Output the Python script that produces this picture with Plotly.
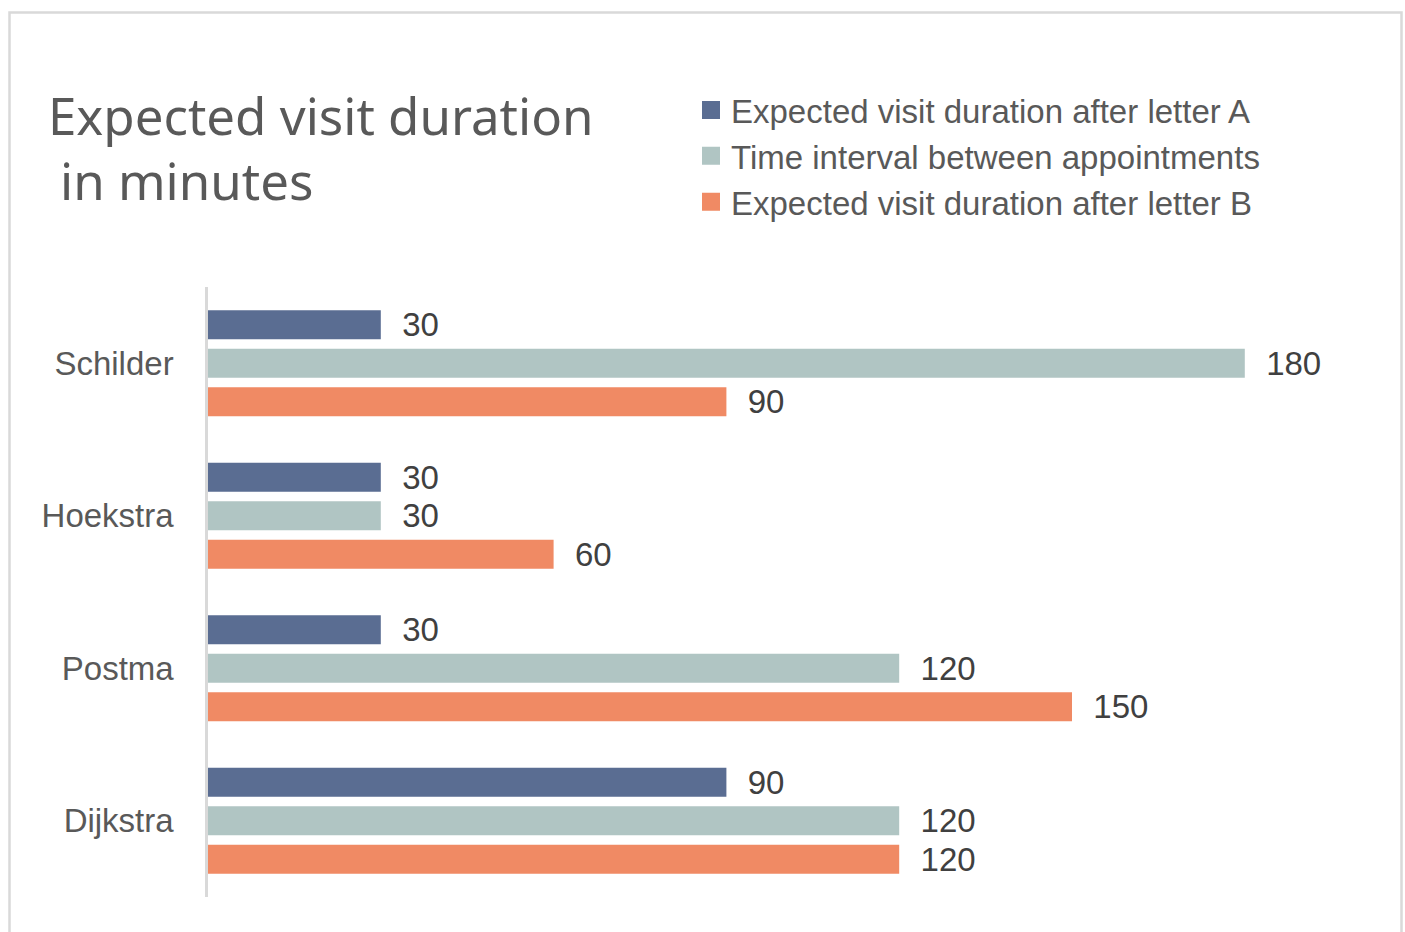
import plotly.graph_objects as go

categories = ["Schilder", "Hoekstra", "Postma", "Dijkstra"]
series_names = [
    "Expected visit duration after letter A",
    "Time interval between appointments",
    "Expected visit duration after letter B",
]
letter_a = [30, 30, 30, 90]
interval = [180, 30, 120, 120]
letter_b = [90, 60, 150, 120]
colors = ["#5A6D92", "#B0C5C3", "#F08A64"]

W, H = 1405, 932
ML, MR, MT, MB = 208, 45, 287, 35
PW = W - ML - MR
PH = H - MT - MB


def px_x(p):
    return (p - ML) / PW


def px_y(p):
    return (H - MB - p) / PH


fig = go.Figure()
for name, vals, col in zip(series_names, [letter_a, interval, letter_b], colors):
    fig.add_trace(go.Bar(
        y=categories, x=vals, name=name, orientation="h",
        marker=dict(color=col, line=dict(width=0)),
        texttemplate="\u00a0\u00a0%{x}", textposition="outside",
        outsidetextfont=dict(family="Liberation Sans, Arial", size=33, color="#404040"),
        constraintext="none", cliponaxis=False,
        hoverinfo="skip", showlegend=False,
    ))

# legend-only entries (larger square swatches)
for name, col in zip(series_names, colors):
    fig.add_trace(go.Scatter(
        x=[None], y=[None], mode="markers", name=name,
        marker=dict(symbol="square", size=16, color=col, line=dict(color=col, width=2)),
        hoverinfo="skip", showlegend=True,
    ))

fig.update_layout(
    width=W, height=H,
    margin=dict(l=ML, r=MR, t=MT, b=MB, pad=0),
    paper_bgcolor="white", plot_bgcolor="white",
    barmode="group", bargap=0.243, bargroupgap=0.247,
    font=dict(family="Liberation Sans, Arial", color="#595959"),
    xaxis=dict(range=[0, 200], visible=False, fixedrange=True),
    yaxis=dict(
        autorange="reversed", showline=True, linecolor="#D9D9D9", linewidth=2.5,
        showgrid=False, zeroline=False, ticks="", ticklabelstandoff=25,
        tickfont=dict(family="Liberation Sans, Arial", size=33, color="#595959"),
    ),
    legend=dict(
        x=px_x(691), xanchor="left", y=px_y(156), yanchor="middle",
        font=dict(family="Liberation Sans, Arial", size=33, color="#595959"),
        bgcolor="rgba(0,0,0,0)", tracegroupgap=0, itemclick=False,
    ),
    showlegend=True,
)

fig.add_annotation(
    text="Expected visit duration", xref="paper", yref="paper",
    x=px_x(46), y=px_y(115), xanchor="left", yanchor="middle", showarrow=False,
    font=dict(family="Noto Sans", size=51, color="#595959"),
)
fig.add_annotation(
    text="in minutes", xref="paper", yref="paper",
    x=px_x(58), y=px_y(180), xanchor="left", yanchor="middle", showarrow=False,
    font=dict(family="Noto Sans", size=51, color="#595959"),
)

fig.add_shape(
    type="rect", xref="paper", yref="paper",
    x0=px_x(9.5), x1=px_x(1401.5), y0=px_y(960), y1=px_y(12.5),
    line=dict(color="#D9D9D9", width=2.5), fillcolor="rgba(0,0,0,0)", layer="below",
)

fig.write_html("out.html", config={"displayModeBar": False})
